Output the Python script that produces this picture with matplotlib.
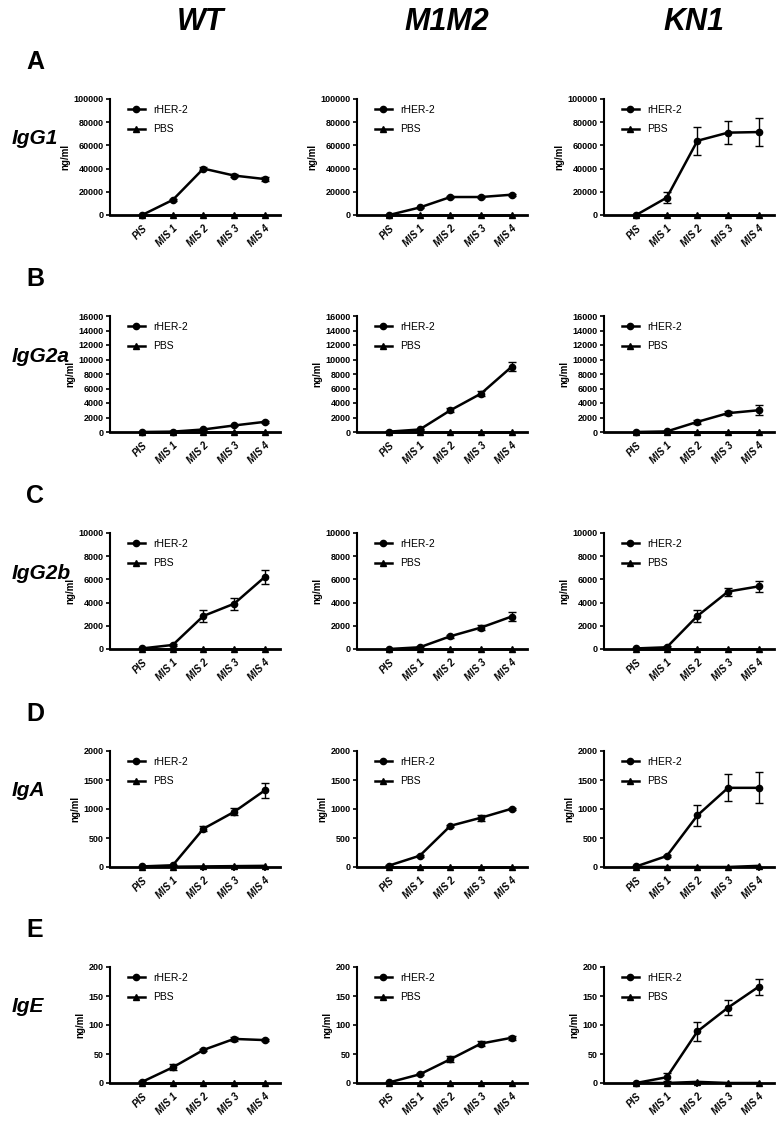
import numpy as np
import matplotlib
matplotlib.use('Agg')
import matplotlib.pyplot as plt
from matplotlib.lines import Line2D

plt.rcParams['font.family'] = ['Liberation Sans', 'DejaVu Sans']

# Categories and labels
timepoints = ['PIS', 'MIS 1', 'MIS 2', 'MIS 3', 'MIS 4']
strains = ['WT', 'M1M2', 'KN1']
isotypes = ['IgG1', 'IgG2a', 'IgG2b', 'IgA', 'IgE']
panel_letters = ['A', 'B', 'C', 'D', 'E']

# y-axis ranges per isotype (max, step)
y_max = [100000, 16000, 10000, 2000, 200]
y_step = [20000, 2000, 2000, 500, 50]

# rHER-2 means (ng/ml), rows = isotype, cols = strain
igg1_her2 = [[0, 13000, 40000, 34000, 31000],
             [0, 6500, 15500, 15500, 17500],
             [0, 15000, 64000, 71000, 71500]]
igg1_her2_err = [[300, 800, 1000, 1000, 1500],
                 [300, 500, 600, 600, 800],
                 [300, 5000, 12000, 10000, 12000]]
igg2a_her2 = [[0, 50, 350, 900, 1400],
              [50, 350, 3000, 5300, 9000],
              [0, 80, 1400, 2600, 3000]]
igg2a_her2_err = [[30, 50, 100, 100, 150],
                  [50, 100, 300, 350, 600],
                  [30, 50, 300, 300, 700]]
igg2b_her2 = [[50, 350, 2850, 3900, 6200],
              [0, 150, 1100, 1850, 2800],
              [50, 150, 2850, 4950, 5400]]
igg2b_her2_err = [[30, 80, 550, 500, 600],
                  [20, 80, 150, 200, 350],
                  [30, 80, 500, 350, 500]]
iga_her2 = [[10, 30, 660, 950, 1320],
            [25, 195, 710, 850, 1005],
            [10, 190, 890, 1365, 1365]]
iga_her2_err = [[5, 10, 40, 60, 130],
                [10, 15, 20, 55, 20],
                [5, 15, 175, 230, 270]]
ige_her2 = [[2, 27, 57, 76, 74],
            [1, 15, 41, 68, 78],
            [0, 10, 89, 130, 166]]
ige_her2_err = [[1, 5, 2, 3, 2],
                [1, 2, 5, 4, 3],
                [0, 7, 16, 13, 14]]

# PBS means
igg1_pbs = [[0, 0, 0, 0, 0], [0, 0, 0, 0, 0], [0, 0, 0, 0, 0]]
igg2a_pbs = [[0, 0, 0, 0, 0], [0, 0, 0, 0, 0], [0, 0, 0, 0, 0]]
igg2b_pbs = [[0, 0, 0, 0, 0], [0, 0, 0, 0, 0], [0, 0, 0, 0, 0]]
iga_pbs = [[0, 5, 10, 15, 20], [0, 0, 0, 0, 0], [0, 0, 0, 0, 20]]
ige_pbs = [[0, 0, 0, 0, 0], [0, 0, 0, 0, 0], [0, 0, 2, 0, 0]]

her2_all = [igg1_her2, igg2a_her2, igg2b_her2, iga_her2, ige_her2]
her2_err_all = [igg1_her2_err, igg2a_her2_err, igg2b_her2_err, iga_her2_err, ige_her2_err]
pbs_all = [igg1_pbs, igg2a_pbs, igg2b_pbs, iga_pbs, ige_pbs]

fig = plt.figure(figsize=(7.81, 11.24), dpi=100)
W, H = 781.0, 1124.0

col_left = [110, 357, 604]
ax_w = 170
row_top = [99, 316, 533, 751, 967]
ax_h = 116

x = np.arange(len(timepoints))

legend_handles = [
    Line2D([], [], color='black', marker='o', markersize=4.5, linewidth=1.8, label='rHER-2'),
    Line2D([], [], color='black', marker='^', markersize=4.5, linewidth=1.8, label='PBS'),
]

for r in range(5):
    for c in range(3):
        ax = fig.add_axes([col_left[c] / W, 1 - (row_top[r] + ax_h) / H, ax_w / W, ax_h / H])
        ax.errorbar(x, her2_all[r][c], yerr=her2_err_all[r][c], color='black', marker='o',
                    markersize=4.5, linewidth=1.8, capsize=3, elinewidth=1, capthick=1,
                    clip_on=False, zorder=3)
        ax.plot(x, pbs_all[r][c], color='black', marker='^', markersize=4.5, linewidth=1.8,
                clip_on=False, zorder=3)
        ax.set_xlim(-1.05, 4.5)
        ax.set_ylim(0, y_max[r])
        ax.set_yticks(np.arange(0, y_max[r] + 1, y_step[r]))
        ax.set_xticks(x)
        ax.set_xticklabels(timepoints, rotation=45, ha='right', rotation_mode='anchor',
                           fontsize=7, fontweight='bold', fontstyle='italic')
        for lab in ax.get_yticklabels():
            lab.set_fontsize(6.5)
            lab.set_fontweight('bold')
        ax.spines['top'].set_visible(False)
        ax.spines['right'].set_visible(False)
        ax.spines['left'].set_linewidth(1.5)
        ax.spines['bottom'].set_linewidth(2.0)
        ax.tick_params(axis='both', direction='out', length=3, width=1.2, pad=1.5)
        ax.tick_params(axis='x', pad=3)
        ax.set_ylabel('ng/ml', fontsize=7, fontweight='bold', labelpad=2)
        ax.legend(handles=legend_handles, loc='upper left', bbox_to_anchor=(0.05, 1.03),
                  frameon=False, fontsize=7.5, handlelength=1.6, labelspacing=0.9,
                  handletextpad=0.8)

# column headers
for c, name in enumerate(strains):
    fig.text((col_left[c] + 90) / W, 1 - 22 / H, name, fontsize=22, fontweight='bold',
             fontstyle='italic', ha='center', va='center')

# row letters and isotype labels
for r in range(5):
    fig.text(35 / W, 1 - (row_top[r] - 37) / H, panel_letters[r], fontsize=18,
             fontweight='bold', ha='center', va='center')
    fig.text(12 / W, 1 - (row_top[r] + 40) / H, isotypes[r], fontsize=15,
             fontweight='bold', fontstyle='italic', ha='left', va='center')

fig.savefig('out.png', dpi=100)
